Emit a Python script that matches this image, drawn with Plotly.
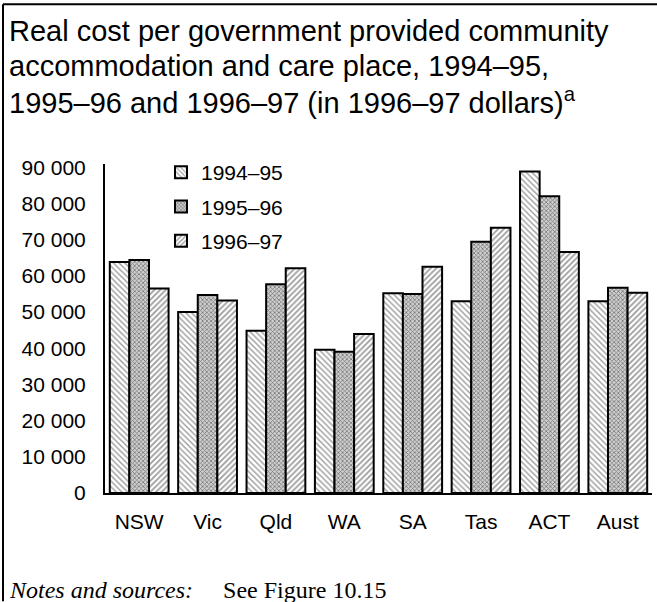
import plotly.graph_objects as go

# Regions and real cost per place (1996-97 dollars)
regions = ["NSW", "Vic", "Qld", "WA", "SA", "Tas", "ACT", "Aust"]
years = ["1994–95", "1995–96", "1996–97"]
cost_9495 = [63800, 50000, 44800, 39600, 55200, 53000, 88800, 53000]
cost_9596 = [64400, 54700, 57700, 39000, 55000, 69400, 82000, 56700]
cost_9697 = [56500, 53200, 62100, 43900, 62500, 73300, 66600, 55300]
y_ticks = [0, 10000, 20000, 30000, 40000, 50000, 60000, 70000, 80000, 90000]
y_tick_text = ["0", "10 000", "20 000", "30 000", "40 000", "50 000",
               "60 000", "70 000", "80 000", "90 000"]

title_lines = [
    "Real cost per government provided community",
    "accommodation and care place, 1994–95,",
    "1995–96 and 1996–97 (in 1996–97 dollars)<sup>a</sup>",
]

W, H = 657, 602
ML, MR, MT, MB = 105, 5, 164, 108.5
PW, PH = W - ML - MR, H - MT - MB


def px(x):
    return (x - ML) / PW


def py(y):
    return (H - MB - y) / PH


patterns = [
    dict(shape="\\", fgcolor="#3a3a3a", bgcolor="white", size=4, solidity=0.35),
    dict(shape="x", fgcolor="#1a1a1a", bgcolor="#d0d0d0", size=3, solidity=0.45),
    dict(shape="/", fgcolor="#3a3a3a", bgcolor="white", size=4, solidity=0.45),
]

fig = go.Figure()
for name, vals, pat in zip(years, [cost_9495, cost_9596, cost_9697], patterns):
    fig.add_trace(go.Bar(
        x=regions, y=vals, name=name, legendgroup=name,
        marker=dict(color="white", pattern=pat,
                    line=dict(color="black", width=2)),
    ))

annotations = []
for line, yc in zip(title_lines, [31, 66, 101]):
    annotations.append(dict(
        text=line, xref="paper", yref="paper", x=px(7), y=py(yc),
        xanchor="left", yanchor="middle", showarrow=False,
        font=dict(family="Liberation Sans, Arial", size=29, color="black"),
    ))
annotations.append(dict(
    text="<i>Notes and sources:</i>&nbsp;&nbsp;&nbsp;&nbsp;&nbsp;See Figure 10.15",
    xref="paper", yref="paper", x=px(7), y=py(591),
    xanchor="left", yanchor="middle", showarrow=False,
    font=dict(family="Liberation Serif, Times New Roman", size=24, color="black"),
))

shapes = [
    # frame: top and left rules
    dict(type="line", xref="paper", yref="paper", x0=px(3), x1=px(657),
         y0=py(4), y1=py(4), line=dict(color="black", width=2)),
    dict(type="line", xref="paper", yref="paper", x0=px(3), x1=px(3),
         y0=py(4), y1=py(602), line=dict(color="black", width=2)),
]

fig.update_layout(
    width=W, height=H,
    margin=dict(l=ML, r=MR, t=MT, b=MB, pad=0),
    paper_bgcolor="white", plot_bgcolor="white",
    barmode="group", bargap=0.14, bargroupgap=0,
    font=dict(family="Liberation Sans, Arial", size=21, color="black"),
    showlegend=True,
    legend=dict(x=px(161), y=py(152), xanchor="left", yanchor="top",
                bgcolor="rgba(0,0,0,0)", borderwidth=0,
                font=dict(size=21), tracegroupgap=4,
                traceorder="grouped"),
    annotations=annotations,
    shapes=shapes,
    xaxis=dict(showline=True, linecolor="black", linewidth=2,
               showgrid=False, ticks="", ticklen=0, ticklabelstandoff=9,
               tickfont=dict(size=21), zeroline=False),
    yaxis=dict(range=[0, 90000 * (493.5 - 164) / (493.5 - 167.25)],
               tickvals=y_ticks, ticktext=y_tick_text,
               showline=True, linecolor="black", linewidth=2,
               showgrid=False, ticks="", zeroline=False, ticklabelstandoff=13,
               tickfont=dict(size=21)),
)

fig.write_html("out.html")
